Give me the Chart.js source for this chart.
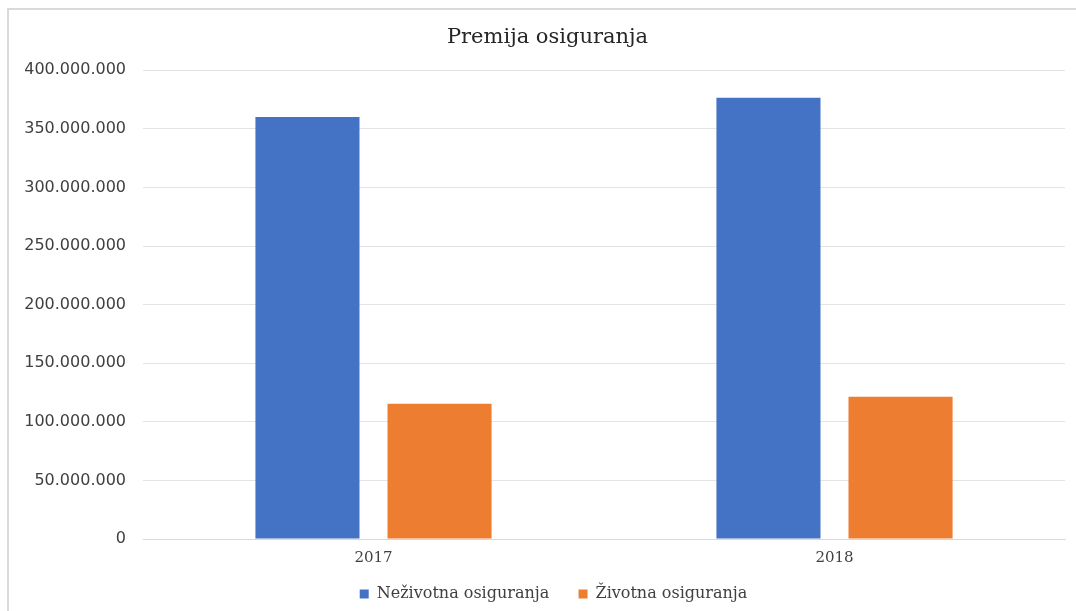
<!DOCTYPE html>
<html>
<head>
<meta charset="utf-8">
<script src="https://cdn.jsdelivr.net/npm/chart.js@4/dist/chart.umd.min.js"></script>
<style>
html,body{margin:0;padding:0;background:#fff;overflow:hidden;}
#wrap{position:absolute;left:0;top:0;width:1076px;height:611px;overflow:hidden;}
#frame{position:absolute;left:7px;top:8px;width:1200px;height:800px;border-left:2px solid #d9d9d9;border-top:2px solid #d9d9d9;}
canvas{position:absolute;left:0;top:0;}
</style>
</head>
<body>
<div id="wrap">
<div id="frame"></div>
<canvas id="c" width="1076" height="611"></canvas>
</div>
<script>
const categories = ['2017', '2018'];
const nezivotna = [360000000, 376500000];
const zivotna = [115400000, 121400000];
const seriesNames = ['Neživotna osiguranja', 'Životna osiguranja'];
const chartTitle = 'Premija osiguranja';

function fmt(v){
  return String(Math.round(v)).replace(/\B(?=(\d{3})+(?!\d))/g, '.');
}

const shiftBlocks = {
  id: 'shiftBlocks',
  afterLayout(chart){
    if (chart.titleBlock) chart.titleBlock.left += 22;
    if (chart.legend) { chart.legend.left += 34; chart.legend.top += 1; chart.legend.bottom += 1; }
  }
};

new Chart(document.getElementById('c'), {
  type: 'bar',
  data: {
    labels: categories,
    datasets: [
      {label: seriesNames[0], data: nezivotna, backgroundColor: '#4472C4', categoryPercentage: 0.573, barPercentage: 0.788},
      {label: seriesNames[1], data: zivotna, backgroundColor: '#ED7D31', categoryPercentage: 0.573, barPercentage: 0.788}
    ]
  },
  plugins: [shiftBlocks],
  options: {
    responsive: false,
    animation: false,
    layout: {padding: {left: 8, right: 11, top: 25, bottom: 0}},
    plugins: {
      title: {
        display: true,
        text: chartTitle,
        color: '#262626',
        font: {family: 'DejaVu Serif', size: 21, weight: 'normal'},
        padding: {top: 0, bottom: 20}
      },
      legend: {
        position: 'bottom',
        labels: {
          color: '#404040',
          font: {family: 'DejaVu Serif', size: 16},
          boxWidth: 9, boxHeight: 9,
          padding: 8,
          generateLabels: function(chart){
            const items = Chart.defaults.plugins.legend.labels.generateLabels(chart);
            items.forEach((it, i) => { if (i < items.length - 1) it.text = it.text + '\u2003\u2004'; });
            return items;
          }
        }
      },
      tooltip: {enabled: false}
    },
    scales: {
      x: {
        grid: {display: false, drawTicks: false},
        border: {display: true, color: '#d9d9d9', width: 1},
        ticks: {color: '#404040', font: {family: 'DejaVu Serif', size: 15}, padding: 10}
      },
      y: {
        min: 0, max: 400000000,
        afterFit: function(s){ s.width = 135; },
        grid: {color: '#e3e3e3', drawTicks: false},
        border: {display: false},
        ticks: {stepSize: 50000000, color: '#404040', font: {family: 'DejaVu Sans', size: 16}, padding: 17, callback: v => fmt(v)}
      }
    }
  }
});
</script>
</body>
</html>
